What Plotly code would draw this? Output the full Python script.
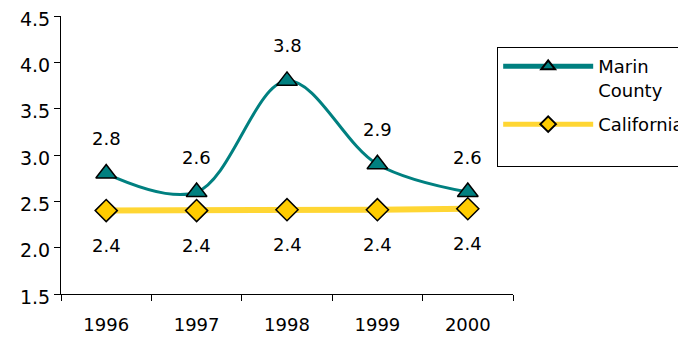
import plotly.graph_objects as go

years = [1996, 1997, 1998, 1999, 2000]
marin = [2.8, 2.6, 3.8, 2.9, 2.6]
california = [2.4, 2.4, 2.41, 2.41, 2.42]

TEAL = "#008080"
YELLOW = "#FFD633"
GOLD = "#FFCC00"
FONT = "DejaVu Sans"

fig = go.Figure()

fig.add_trace(go.Scatter(
    x=years, y=marin, name="Marin<br>County", mode="lines+markers", legendgroup="m",
    line=dict(color=TEAL, width=3, shape="spline", smoothing=1.0),
    marker=dict(symbol="triangle-up", size=18, color=TEAL, line=dict(color="black", width=1.5)),
))
# trailing blank line only makes the legend box taller, like the original
fig.add_trace(go.Scatter(
    x=years, y=california, name="California<br> ", mode="lines+markers", legendgroup="c",
    line=dict(color=YELLOW, width=6),
    marker=dict(symbol="diamond", size=17, color=GOLD, line=dict(color="black", width=1.5)),
))

# value labels
for x, y in zip(years, marin):
    fig.add_annotation(x=x, y=y, text=f"{y:.1f}", showarrow=False, yshift=35,
                       font=dict(size=18, color="black", family=FONT))
for x, y in zip(years, california):
    fig.add_annotation(x=x, y=y, text=f"{y:.1f}", showarrow=False, yshift=-35,
                       font=dict(size=18, color="black", family=FONT))

# page has an 8px body margin, so the margins are shifted by that
fig.update_layout(
    width=686, height=337,
    margin=dict(l=53, r=181, t=8, b=51, autoexpand=False),
    plot_bgcolor="white", paper_bgcolor="white",
    font=dict(family=FONT, size=18, color="black"),
    legend=dict(x=0.965, y=0.888, xanchor="left", yanchor="top",
                bordercolor="black", borderwidth=1, bgcolor="white",
                font=dict(size=18), itemwidth=90, itemsizing="constant",
                traceorder="grouped", tracegroupgap=8, valign="top"),
)
fig.update_xaxes(range=[years[0] - 0.5, years[-1] + 0.5], tickvals=years,
                 ticktext=[str(y) for y in years], ticks="", showline=True,
                 linecolor="black", linewidth=1, showgrid=False, zeroline=False,
                 minor=dict(ticks="outside", tick0=years[0] - 0.5, dtick=1,
                            ticklen=6, tickcolor="black", showgrid=False),
                 ticklabelstandoff=14)
fig.update_yaxes(range=[1.5, 4.5], dtick=0.5, tickformat=".1f", showline=True,
                 linecolor="black", linewidth=1, ticks="outside", ticklen=6,
                 tickcolor="black", showgrid=False, zeroline=False,
                 tickfont=dict(size=19), ticklabeloverflow="allow",
                 ticklabelshift=3)

fig.write_html("out.html")
